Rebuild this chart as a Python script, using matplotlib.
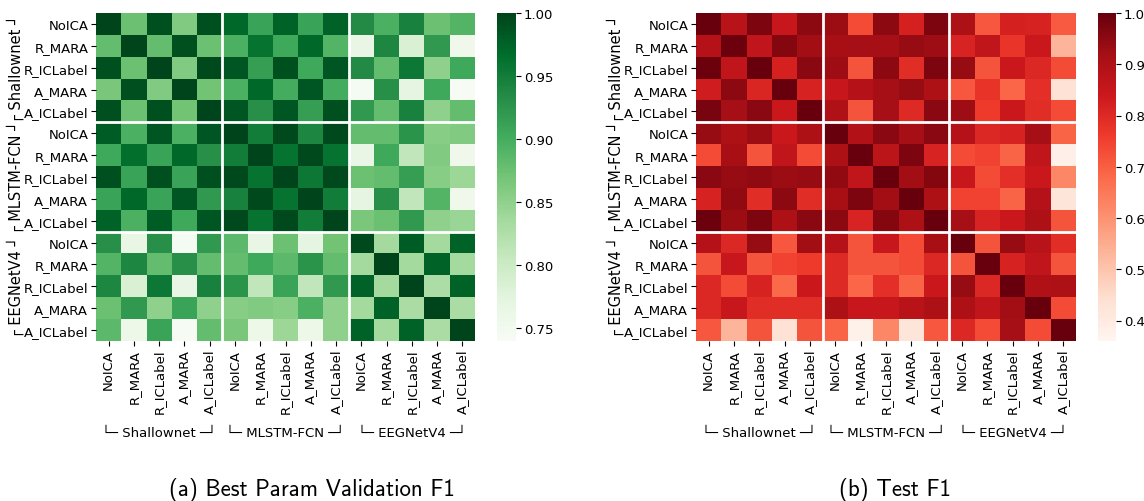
import numpy as np
import matplotlib
matplotlib.use("Agg")
import matplotlib.pyplot as plt

# labels
methods = ["NoICA", "R_MARA", "R_ICLabel", "A_MARA", "A_ICLabel"]
models = ["Shallownet", "MLSTM-FCN", "EEGNetV4"]
tick_labels = methods * 3

# (a) best param validation F1 (rows/cols: model x preprocessing)
val_f1 = [
    [1.00, 0.875, 0.99, 0.86, 0.99, 0.97, 0.91, 0.975, 0.91, 0.975, 0.935, 0.895, 0.945, 0.875, 0.89],
    [0.88, 1.00, 0.88, 0.99, 0.875, 0.895, 0.96, 0.905, 0.97, 0.89, 0.765, 0.94, 0.785, 0.92, 0.755],
    [0.99, 0.875, 1.00, 0.86, 0.995, 0.985, 0.915, 0.99, 0.905, 0.985, 0.935, 0.88, 0.955, 0.85, 0.905],
    [0.865, 0.99, 0.86, 1.00, 0.87, 0.895, 0.97, 0.90, 0.985, 0.90, 0.745, 0.93, 0.77, 0.905, 0.742],
    [0.99, 0.875, 0.99, 0.87, 1.00, 0.985, 0.93, 0.985, 0.915, 0.99, 0.92, 0.88, 0.945, 0.85, 0.88],
    [0.98, 0.895, 0.985, 0.895, 0.985, 1.00, 0.95, 0.995, 0.94, 0.995, 0.88, 0.88, 0.925, 0.855, 0.86],
    [0.905, 0.965, 0.91, 0.97, 0.93, 0.95, 1.00, 0.96, 0.995, 0.96, 0.765, 0.905, 0.81, 0.86, 0.755],
    [0.99, 0.91, 0.99, 0.91, 0.99, 0.995, 0.96, 1.00, 0.955, 0.995, 0.875, 0.88, 0.915, 0.855, 0.84],
    [0.91, 0.97, 0.91, 0.985, 0.92, 0.945, 0.995, 0.96, 1.00, 0.95, 0.77, 0.93, 0.81, 0.89, 0.755],
    [0.975, 0.895, 0.98, 0.905, 0.985, 0.995, 0.96, 0.995, 0.95, 1.00, 0.865, 0.875, 0.92, 0.85, 0.843],
    [0.93, 0.767, 0.93, 0.745, 0.92, 0.885, 0.765, 0.875, 0.77, 0.87, 0.995, 0.835, 0.98, 0.835, 0.975],
    [0.89, 0.94, 0.88, 0.93, 0.88, 0.88, 0.905, 0.885, 0.925, 0.88, 0.835, 1.00, 0.835, 0.975, 0.835],
    [0.94, 0.785, 0.955, 0.765, 0.945, 0.925, 0.81, 0.91, 0.81, 0.92, 0.975, 0.835, 1.00, 0.828, 0.975],
    [0.875, 0.92, 0.85, 0.91, 0.85, 0.855, 0.86, 0.855, 0.895, 0.85, 0.835, 0.975, 0.83, 1.00, 0.83],
    [0.885, 0.758, 0.91, 0.742, 0.88, 0.865, 0.758, 0.84, 0.758, 0.85, 0.975, 0.835, 0.975, 0.83, 1.00],
]

# (b) test F1
test_f1 = [
    [1.00, 0.88, 0.97, 0.845, 0.95, 0.93, 0.73, 0.95, 0.82, 0.97, 0.90, 0.71, 0.82, 0.815, 0.705],
    [0.885, 0.99, 0.86, 0.96, 0.92, 0.91, 0.915, 0.915, 0.935, 0.925, 0.81, 0.86, 0.77, 0.84, 0.53],
    [0.99, 0.86, 1.00, 0.82, 0.955, 0.925, 0.715, 0.95, 0.79, 0.97, 0.935, 0.715, 0.84, 0.80, 0.73],
    [0.83, 0.95, 0.805, 1.00, 0.815, 0.845, 0.885, 0.915, 0.935, 0.90, 0.71, 0.775, 0.685, 0.785, 0.43],
    [0.975, 0.915, 0.955, 0.84, 1.00, 0.895, 0.715, 0.915, 0.795, 0.955, 0.925, 0.76, 0.84, 0.79, 0.73],
    [0.935, 0.90, 0.93, 0.84, 0.90, 1.00, 0.89, 0.955, 0.915, 0.955, 0.885, 0.80, 0.815, 0.915, 0.69],
    [0.73, 0.91, 0.715, 0.86, 0.73, 0.90, 1.00, 0.87, 0.97, 0.81, 0.73, 0.745, 0.69, 0.86, 0.38],
    [0.955, 0.935, 0.945, 0.93, 0.935, 0.945, 0.86, 1.00, 0.92, 0.96, 0.845, 0.73, 0.785, 0.84, 0.62],
    [0.815, 0.945, 0.79, 0.95, 0.79, 0.91, 0.97, 0.92, 1.00, 0.90, 0.745, 0.745, 0.69, 0.885, 0.42],
    [0.99, 0.93, 0.97, 0.90, 0.955, 0.95, 0.81, 0.96, 0.90, 1.00, 0.915, 0.81, 0.84, 0.90, 0.715],
    [0.885, 0.80, 0.935, 0.71, 0.92, 0.885, 0.715, 0.845, 0.73, 0.91, 1.00, 0.715, 0.935, 0.88, 0.79],
    [0.715, 0.845, 0.715, 0.745, 0.76, 0.795, 0.715, 0.715, 0.73, 0.80, 0.715, 1.00, 0.815, 0.86, 0.715],
    [0.80, 0.73, 0.815, 0.68, 0.84, 0.795, 0.685, 0.785, 0.69, 0.84, 0.935, 0.80, 1.00, 0.895, 0.90],
    [0.80, 0.845, 0.79, 0.79, 0.79, 0.90, 0.845, 0.845, 0.88, 0.90, 0.90, 0.86, 0.92, 1.00, 0.73],
    [0.71, 0.53, 0.715, 0.43, 0.715, 0.69, 0.375, 0.62, 0.42, 0.71, 0.80, 0.73, 0.915, 0.73, 1.00],
]

W, H = 1144, 502
fig = plt.figure(figsize=(W / 100, H / 100), dpi=100)


def px(x0, y0, x1, y1):
    # pixel box -> figure coords
    return [x0 / W, 1 - y1 / H, (x1 - x0) / W, (y1 - y0) / H]


def draw_panel(data, cmap, vmin, vmax, hm_box, cb_box, cb_ticks, cb_fmt, ylab_x, caption, cap_x):
    ax = fig.add_axes(px(*hm_box))
    cax = fig.add_axes(px(*cb_box))
    arr = np.array(data)
    n = arr.shape[0]
    im = ax.imshow(arr, cmap=cmap, vmin=vmin, vmax=vmax, aspect="auto",
                   interpolation="nearest", extent=(0, n, n, 0))
    for k in (5, 10):
        ax.axhline(k, color="white", lw=2)
        ax.axvline(k, color="white", lw=2)
    ax.set_xticks(np.arange(n) + 0.5)
    ax.set_yticks(np.arange(n) + 0.5)
    ax.set_xticklabels(tick_labels, rotation=90, fontsize=9.5)
    ax.set_yticklabels(tick_labels, fontsize=9.5)
    ax.tick_params(length=3.5, width=0.8, pad=2)
    for s in ax.spines.values():
        s.set_visible(False)

    cb = fig.colorbar(im, cax=cax)
    cb.set_ticks(cb_ticks)
    cb.ax.set_yticklabels([cb_fmt % t for t in cb_ticks], fontsize=9.5)
    cb.ax.tick_params(length=3.5, width=0.8, pad=2)
    cb.outline.set_visible(False)

    # group labels below x axis and left of y axis
    x0, y0, x1, y1 = hm_box
    gw = (x1 - x0) / 3
    gh = (y1 - y0) / 3
    for i, m in enumerate(models):
        cx = x0 + gw * (i + 0.5)
        fig.text(cx / W, 1 - 434 / H, "└─ " + m + " ─┘", ha="center", va="center", fontsize=9.5)
        cy = y0 + gh * (i + 0.5)
        fig.text(ylab_x / W, 1 - cy / H, "┌ " + m + " ┘", ha="center", va="center",
                 rotation=90, fontsize=10.5)

    fig.text(cap_x / W, 1 - 490 / H, caption, ha="center", va="center",
             fontsize=16.5, family="cmss10")


draw_panel(val_f1, "Greens", 0.74, 1.0, (96, 14, 475, 342), (497, 14, 516, 342),
           [0.75, 0.80, 0.85, 0.90, 0.95, 1.00], "%.2f", 15,
           "(a) Best Param Validation F1", 312)
draw_panel(test_f1, "Reds", 0.36, 1.0, (696, 14, 1076, 342), (1098, 14, 1116, 342),
           [0.4, 0.5, 0.6, 0.7, 0.8, 0.9, 1.0], "%.1f", 615,
           "(b) Test F1", 895)

fig.savefig("out.png", dpi=100)
